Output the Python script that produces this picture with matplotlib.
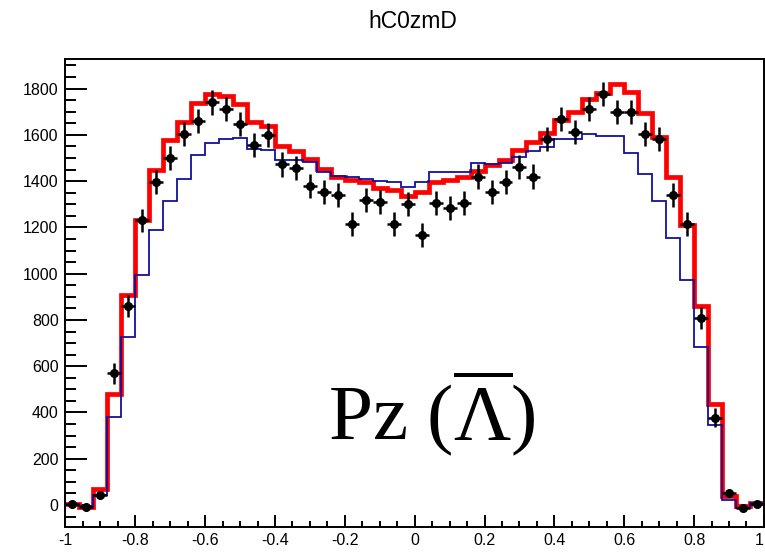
import numpy as np
import matplotlib
matplotlib.use("Agg")
from matplotlib import pyplot as plt
from matplotlib.ticker import MultipleLocator

# 50 bins over [-1, 1]
edges = np.linspace(-1, 1, 51)
centers = 0.5 * (edges[:-1] + edges[1:])

red_hist = [5, -8, 68, 480, 908, 1232, 1450, 1578, 1657, 1738,
            1775, 1766, 1732, 1657, 1640, 1552, 1530, 1497, 1452, 1418,
            1406, 1395, 1369, 1360, 1335, 1355, 1396, 1405, 1416, 1443,
            1468, 1493, 1535, 1571, 1607, 1664, 1700, 1754, 1783, 1818,
            1787, 1693, 1590, 1417, 1211, 862, 438, 38, -5, 10]

blue_hist = [0, -3, 45, 382, 728, 994, 1189, 1316, 1408, 1512,
             1566, 1581, 1585, 1540, 1535, 1490, 1490, 1482, 1440, 1422,
             1420, 1410, 1400, 1398, 1376, 1398, 1441, 1441, 1441, 1477,
             1472, 1477, 1506, 1532, 1546, 1581, 1581, 1604, 1595, 1595,
             1520, 1430, 1315, 1153, 973, 684, 346, 20, -12, 7]

data_vals = [3, -10, 42, 569, 862, 1230, 1398, 1500, 1602, 1662,
             1740, 1710, 1648, 1556, 1600, 1472, 1456, 1380, 1352, 1340,
             1216, 1320, 1309, 1216, 1300, 1167, 1305, 1283, 1307, 1420,
             1352, 1398, 1460, 1420, 1581, 1668, 1614, 1711, 1778, 1698,
             1700, 1602, 1581, 1340, 1215, 810, 378, 53, -12, 3]

data_err = [8, 10, 18, 45, 48, 50, 52, 52, 52, 52,
            52, 52, 52, 52, 52, 52, 52, 52, 52, 52,
            52, 52, 52, 52, 52, 52, 52, 52, 52, 52,
            52, 52, 52, 52, 52, 52, 52, 52, 52, 52,
            52, 52, 52, 52, 50, 48, 40, 18, 10, 8]

x_ticks = [-1, -0.8, -0.6, -0.4, -0.2, 0, 0.2, 0.4, 0.6, 0.8, 1]
x_ticklabels = ["-1", "-0.8", "-0.6", "-0.4", "-0.2", "0", "0.2", "0.4", "0.6", "0.8", "1"]

plt.rcParams['font.family'] = ['Liberation Sans', 'DejaVu Sans']
plt.rcParams['axes.unicode_minus'] = False
plt.rcParams['mathtext.fontset'] = 'custom'
plt.rcParams['mathtext.rm'] = 'Liberation Serif'
plt.rcParams['mathtext.it'] = 'Liberation Serif:italic'

fig = plt.figure(figsize=(7.65, 5.52), dpi=100)
ax = fig.add_axes([0.0856, 0.0453, 0.913, 0.8478])

ax.stairs(red_hist, edges, baseline=None, color="#ff0000", linewidth=3.4, zorder=2)
ax.stairs(blue_hist, edges, baseline=None, color="#10109e", linewidth=1.3, zorder=3)
ax.errorbar(centers, data_vals, yerr=data_err, xerr=0.02, fmt='o', color='black',
            markersize=5.5, elinewidth=1.8, capsize=0, zorder=4)

ax.set_xlim(-1, 1)
ax.set_ylim(-95, 1928)

ax.set_xticks(x_ticks)
ax.set_xticklabels(x_ticklabels)
ax.xaxis.set_minor_locator(MultipleLocator(0.05))
ax.yaxis.set_major_locator(MultipleLocator(200))
ax.yaxis.set_minor_locator(MultipleLocator(50))

ax.tick_params(axis='both', which='both', direction='in', top=False, right=False,
               labelsize=11.5, colors='black', width=1.4)
ax.tick_params(axis='y', which='major', length=16, pad=5)
ax.tick_params(axis='y', which='minor', length=8)
ax.tick_params(axis='x', which='major', length=8.5, pad=4)
ax.tick_params(axis='x', which='minor', length=4.3)
for s in ax.spines.values():
    s.set_linewidth(1.4)

# keep the last x label inside the figure
ax.xaxis.get_major_ticks()[-1].label1.set_horizontalalignment('right')

fig.suptitle("hC0zmD", x=0.539, y=0.982, fontsize=16.5)

ax.text(0.376, 0.185, r'Pz ($\overline{\Lambda}$)', transform=ax.transAxes,
        fontsize=57, family='Liberation Serif', ha='left', va='baseline')

plt.savefig("out.png")
